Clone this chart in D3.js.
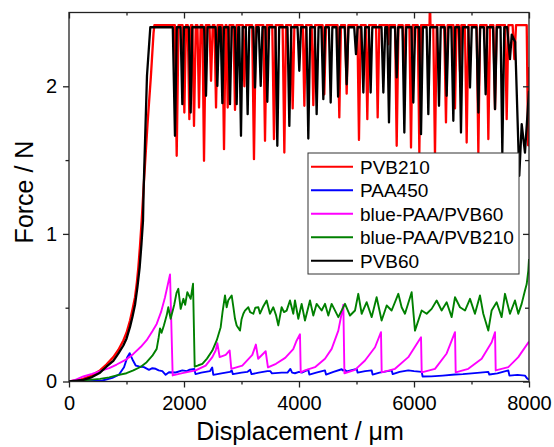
<!DOCTYPE html>
<html><head><meta charset="utf-8">
<script src="https://cdn.jsdelivr.net/npm/d3@7"></script>
<style>
body{margin:0;background:#fff}
svg{display:block}
text{font-family:"Liberation Sans",Arial,Helvetica,sans-serif;fill:#000}
</style>
</head><body>
<svg id="chart" width="554" height="447"></svg>
<script>
// ---------- data ----------
const seriesNames = ["PVB210","PAA450","blue-PAA/PVB60","blue-PAA/PVB210","PVB60"];
const seriesColors = ["#ff0000","#0000ff","#ff00ff","#008000","#000000"];
const xMajorTicks = [0,2000,4000,6000,8000];
const xMinorTicks = [1000,3000,5000,7000];
const yMajorTicks = [0,1,2];
const yMinorTicks = [0.5,1.5];
const xTitle = "Displacement / \u03bcm";
const yTitle = "Force / N";

const pvb210 = [[0,0],[100,0.005],[249,0.018],[400,0.042],[539,0.075],[650,0.115],[771,0.165],[860,0.215],[945,0.278],[1000,0.33],[1061,0.413],[1105,0.49],[1148,0.571],[1180,0.67],[1206,0.774],[1235,0.92],[1264,1.09],[1300,1.33],[1365,1.74],[1423,2.06],[1470,2.36],[1485,2.415],
[1840,2.415],[1873,1.529],[1905,2.415],[1975,2.415],[2006,1.822],[2035,2.415],[2065,2.415],[2093,1.777],[2120,2.415],[2145,2.415],[2174,1.732],[2205,2.415],[2233,2.415],[2261,1.856],[2290,2.415],[2320,2.415],[2348,1.495],[2380,2.415],[2443,2.415],[2470,2.037],[2500,2.415],[2530,2.415],[2557,1.856],[2585,2.415],[2667,2.415],[2696,1.574],[2725,2.415],[2738,2.415],[2760,1.856],[2790,2.415],[2860,2.415],[2887,1.84],[2915,2.415],[3023,2.415],[3050,2.0],[3077,2.415],[3185,2.415],[3217,1.506],[3250,2.415],[3380,2.415],[3409,1.631],[3440,2.415],[3535,2.415],[3565,1.642],[3595,2.415],[3715,2.415],[3745,1.551],[3775,2.415],[3860,2.415],[3890,1.85],[3920,2.415],[4065,2.415],[4093,1.868],[4123,2.415],[4220,2.415],[4249,1.872],[4280,2.415],[4410,2.415],[4440,1.946],[4470,2.415],[4670,2.415],[4701,1.789],[4730,2.415],[4800,2.415],[4829,1.95],[4858,2.415],[5015,2.415],[5043,1.637],[5073,2.415],[5160,2.415],[5188,1.777],[5217,2.415],[5340,2.415],[5368,1.789],[5397,2.415],[5540,2.415],[5553,2.285],[5566,2.415],[5670,2.415],[5699,1.597],[5730,2.415],[5803,2.415],[5830,2.05],[5857,2.415],[5920,2.415],[5948,1.585],[5977,2.415],[6065,2.415],[6093,1.551],[6123,2.415],[6270,2.415],[6278,2.6],[6286,2.415],[6335,2.415],[6365,1.529],[6395,2.415],[6525,2.415],[6556,1.755],[6585,2.415],[6685,2.415],[6713,1.85],[6741,2.415],[6777,2.415],[6800,2.1],[6823,2.415],[6885,2.415],[6916,1.619],[6947,2.415],[7090,2.415],[7119,1.551],[7150,2.415],[7263,2.415],[7293,1.642],[7323,2.415],[7380,2.415],[7409,1.845],[7438,2.415],[7583,2.415],[7612,1.777],[7641,2.415],[7715,2.415],[7745,2.184],[7775,2.415],[7960,2.415],[7985,1.6],[8000,2.13]];

const paa450 = [[0,0],[300,0.001],[580,0.007],[754,0.025],[870,0.047],[957,0.097],[1014,0.165],[1055,0.192],[1113,0.142],[1160,0.108],[1217,0.102],[1304,0.097],[1391,0.079],[1450,0.09],[1507,0.086],[1560,0.075],[1623,0.07],[1681,0.045],[1739,0.063],[1855,0.061],[1971,0.075],[2050,0.07],[2100,0.08],[2180,0.085],[2200,0.05],[2300,0.06],[2450,0.07],[2490,0.095],[2510,0.045],[2650,0.055],[2800,0.065],[2830,0.075],[2850,0.05],[3000,0.06],[3100,0.065],[3150,0.08],[3175,0.05],[3300,0.06],[3450,0.07],[3500,0.07],[3530,0.055],[3700,0.06],[3800,0.06],[3850,0.085],[3880,0.06],[3930,0.056],[4000,0.065],[4050,0.06],[4162,0.08],[4180,0.047],[4300,0.06],[4452,0.075],[4470,0.047],[4600,0.065],[4742,0.083],[4760,0.075],[4800,0.078],[4830,0.068],[5003,0.086],[5020,0.06],[5150,0.07],[5264,0.075],[5280,0.047],[5400,0.06],[5612,0.075],[5630,0.05],[5750,0.065],[5901,0.075],[6000,0.07],[6134,0.065],[6150,0.034],[6300,0.035],[6500,0.04],[6713,0.047],[6850,0.05],[7003,0.055],[7150,0.06],[7292,0.065],[7310,0.047],[7450,0.055],[7640,0.075],[7660,0.04],[7800,0.045],[7930,0.04],[7970,0.02],[8000,0.012]];

const paaPvb60 = [[0,0],[100,0.01],[249,0.034],[400,0.052],[539,0.07],[700,0.09],[829,0.115],[1000,0.15],[1119,0.187],[1250,0.235],[1351,0.28],[1450,0.34],[1525,0.39],[1600,0.47],[1670,0.571],[1757,0.725],[1803,0.041],[1971,0.057],[2203,0.075],[2377,0.108],[2493,0.165],[2551,0.21],[2580,0.26],[2620,0.165],[2725,0.18],[2794,0.21],[2823,0.086],[3014,0.108],[3188,0.18],[3250,0.25],[3290,0.154],[3420,0.205],[3460,0.095],[3600,0.12],[3760,0.16],[3900,0.22],[3960,0.278],[4017,0.32],[4030,0.062],[4104,0.075],[4278,0.097],[4452,0.154],[4568,0.221],[4684,0.345],[4771,0.52],[4790,0.056],[4974,0.079],[5148,0.142],[5322,0.232],[5426,0.334],[5438,0.062],[5670,0.086],[5901,0.165],[6122,0.3],[6134,0.062],[6365,0.086],[6568,0.19],[6713,0.334],[6725,0.062],[6944,0.086],[7177,0.154],[7351,0.266],[7409,0.334],[7421,0.075],[7640,0.097],[7814,0.165],[8000,0.27]];

const paaPvb210 = [[0,0],[100,0.002],[249,0.008],[400,0.013],[539,0.018],[700,0.028],[829,0.041],[1000,0.056],[1119,0.075],[1250,0.1],[1351,0.131],[1450,0.175],[1525,0.221],[1560,0.3],[1583,0.36],[1610,0.33],[1650,0.38],[1700,0.45],[1727,0.503],[1768,0.425],[1830,0.52],[1870,0.6],[1901,0.628],[1942,0.492],[1990,0.56],[2020,0.52],[2058,0.605],[2090,0.58],[2116,0.56],[2157,0.662],[2186,0.1],[2250,0.11],[2319,0.12],[2400,0.155],[2493,0.21],[2570,0.28],[2638,0.368],[2670,0.47],[2713,0.583],[2742,0.503],[2770,0.55],[2829,0.583],[2860,0.5],[2887,0.425],[2916,0.38],[2974,0.345],[3000,0.42],[3032,0.459],[3060,0.48],[3119,0.503],[3150,0.47],[3206,0.459],[3240,0.5],[3293,0.503],[3321,0.46],[3380,0.51],[3437,0.549],[3495,0.459],[3553,0.503],[3600,0.45],[3640,0.38],[3698,0.503],[3740,0.47],[3785,0.48],[3843,0.549],[3901,0.459],[3930,0.549],[3988,0.425],[4046,0.526],[4104,0.413],[4191,0.549],[4249,0.447],[4307,0.526],[4394,0.481],[4452,0.526],[4510,0.447],[4568,0.526],[4684,0.436],[4800,0.526],[4887,0.447],[4974,0.481],[5031,0.594],[5090,0.459],[5177,0.537],[5264,0.436],[5350,0.571],[5437,0.413],[5525,0.515],[5611,0.481],[5727,0.594],[5785,0.503],[5843,0.459],[5959,0.605],[6017,0.345],[6133,0.481],[6220,0.459],[6307,0.492],[6394,0.549],[6481,0.481],[6568,0.537],[6655,0.436],[6713,0.571],[6800,0.503],[6887,0.481],[6974,0.56],[7060,0.459],[7147,0.583],[7205,0.459],[7292,0.345],[7350,0.481],[7437,0.537],[7524,0.436],[7582,0.594],[7669,0.459],[7756,0.549],[7814,0.459],[7872,0.526],[7930,0.617],[7960,0.66],[7988,0.752],[8000,0.83]];

const pvb60 = [[0,0],[100,0.004],[249,0.011],[400,0.03],[539,0.06],[650,0.1],[771,0.14],[860,0.19],[945,0.244],[1000,0.29],[1061,0.37],[1105,0.44],[1148,0.52],[1190,0.64],[1229,0.774],[1260,0.93],[1287,1.09],[1298,1.3],[1356,2.07],[1414,2.4],
[1805,2.4],[1843,1.665],[1875,2.4],[1940,2.4],[1971,1.879],[2000,2.4],[2085,2.4],[2116,1.822],[2145,2.4],[2350,2.4],[2383,1.936],[2410,2.4],[2550,2.4],[2580,2.003],[2610,2.4],[2637,2.4],[2667,1.886],[2695,2.4],[2770,2.4],[2800,1.879],[2830,2.4],[2885,2.4],[2916,1.879],[2945,2.4],[2960,2.4],[2991,1.665],[3020,2.4],[3075,2.4],[3107,1.811],[3135,2.4],[3205,2.4],[3235,1.992],[3265,2.4],[3300,2.4],[3334,2.003],[3365,2.4],[3415,2.4],[3449,1.895],[3480,2.4],[3590,2.4],[3623,1.597],[3655,2.4],[3800,2.4],[3832,1.732],[3865,2.4],[3975,2.4],[4005,2.105],[4035,2.4],[4130,2.4],[4162,1.646],[4195,2.4],[4275,2.4],[4307,1.811],[4340,2.4],[4390,2.4],[4423,1.913],[4455,2.4],[4520,2.4],[4551,1.89],[4580,2.4],[4650,2.4],[4680,1.93],[4710,2.4],[4795,2.4],[4829,2.014],[4860,2.4],[4960,2.4],[4991,2.218],[5020,2.4],[5085,2.4],[5119,1.958],[5150,2.4],[5215,2.4],[5246,1.958],[5275,2.4],[5435,2.4],[5467,1.958],[5500,2.4],[5535,2.4],[5565,1.755],[5595,2.4],[5670,2.4],[5699,2.06],[5725,2.4],[5800,2.4],[5832,1.687],[5865,2.4],[5955,2.4],[5988,1.89],[6020,2.4],[6090,2.4],[6122,1.676],[6155,2.4],[6220,2.4],[6249,1.811],[6280,2.4],[6405,2.4],[6435,1.868],[6465,2.4],[6535,2.4],[6568,1.936],[6600,2.4],[6650,2.4],[6684,1.766],[6715,2.4],[6785,2.4],[6817,1.687],[6850,2.4],[6945,2.4],[6974,1.992],[7005,2.4],[7085,2.4],[7119,1.822],[7150,2.4],[7215,2.4],[7246,1.946],[7275,2.4],[7375,2.4],[7409,1.845],[7440,2.4],[7505,2.4],[7536,1.551],[7570,2.4],[7620,2.4],[7669,2.184],[7700,2.35],[7760,2.3],[7831,1.394],[7873,1.743],[7930,1.551],[8000,1.97]];

const seriesData = [pvb210, paa450, paaPvb60, paaPvb210, pvb60];

// ---------- chart ----------
const L = 69, R = 529, T = 12.5, B = 381.5;
const svg = d3.select("#chart");
const x = d3.scaleLinear().domain([0,8000]).range([L,R]);
const y = d3.scaleLinear().domain([0,2.5]).range([B,T]);

svg.append("defs").append("clipPath").attr("id","clip")
  .append("rect").attr("x",L).attr("y",T).attr("width",R-L).attr("height",B-T);

const line = d3.line().x(d=>x(d[0])).y(d=>y(d[1]));
const plot = svg.append("g").attr("clip-path","url(#clip)");
seriesData.forEach((d,i)=>{
  plot.append("path").datum(d).attr("d",line)
    .attr("fill","none").attr("stroke",seriesColors[i])
    .attr("stroke-width", (i===0||i===4)?2.3:1.9)
    .attr("stroke-linejoin","round");
});

const fs = 20;
function styleAxis(g){
  g.select(".domain").remove();
  g.selectAll("line").attr("stroke","#222").attr("stroke-width",1.3);
  g.selectAll("text").style("font-size",fs+"px").attr("fill","#000");
}
// bottom
svg.append("g").attr("transform",`translate(0,${B})`)
  .call(d3.axisBottom(x).tickValues(xMajorTicks).tickSize(6).tickPadding(8).tickFormat(d3.format("d"))).call(styleAxis);
svg.append("g").attr("transform",`translate(0,${B})`)
  .call(d3.axisBottom(x).tickValues(xMinorTicks).tickSize(3).tickFormat("")).call(styleAxis);
// top (inward)
svg.append("g").attr("transform",`translate(0,${T})`)
  .call(d3.axisBottom(x).tickValues(xMajorTicks).tickSize(6).tickFormat("")).call(styleAxis);
svg.append("g").attr("transform",`translate(0,${T})`)
  .call(d3.axisBottom(x).tickValues(xMinorTicks).tickSize(3).tickFormat("")).call(styleAxis);
// left
svg.append("g").attr("transform",`translate(${L},0)`)
  .call(d3.axisLeft(y).tickValues(yMajorTicks).tickSize(6).tickPadding(6).tickFormat(d3.format("d"))).call(styleAxis);
svg.append("g").attr("transform",`translate(${L},0)`)
  .call(d3.axisLeft(y).tickValues(yMinorTicks).tickSize(3.5).tickFormat("")).call(styleAxis);
// right (inward)
svg.append("g").attr("transform",`translate(${R},0)`)
  .call(d3.axisLeft(y).tickValues(yMajorTicks).tickSize(6).tickFormat("")).call(styleAxis);
svg.append("g").attr("transform",`translate(${R},0)`)
  .call(d3.axisLeft(y).tickValues(yMinorTicks).tickSize(4).tickFormat("")).call(styleAxis);

// frame
svg.append("rect").attr("x",L).attr("y",T).attr("width",R-L).attr("height",B-T)
  .attr("fill","none").attr("stroke","#222").attr("stroke-width",1.3);

// titles
svg.append("text").attr("x",300).attr("y",440).attr("text-anchor","middle")
  .style("font-size","25px").text(xTitle);
svg.append("text").attr("transform","translate(33,192) rotate(-90)").attr("text-anchor","middle")
  .style("font-size","25px").text(yTitle);

// legend
const lg = svg.append("g");
lg.append("rect").attr("x",308).attr("y",153).attr("width",211).attr("height",121)
  .attr("fill","#fff").attr("stroke","#333").attr("stroke-width",1);
seriesNames.forEach((n,i)=>{
  const cy = 166.7 + i*23.5;
  lg.append("line").attr("x1",311).attr("x2",353).attr("y1",cy).attr("y2",cy)
    .attr("stroke",seriesColors[i]).attr("stroke-width",2);
  lg.append("text").attr("x",360).attr("y",cy).attr("dy","0.36em")
    .style("font-size","19px").text(n);
});
</script>
</body></html>
